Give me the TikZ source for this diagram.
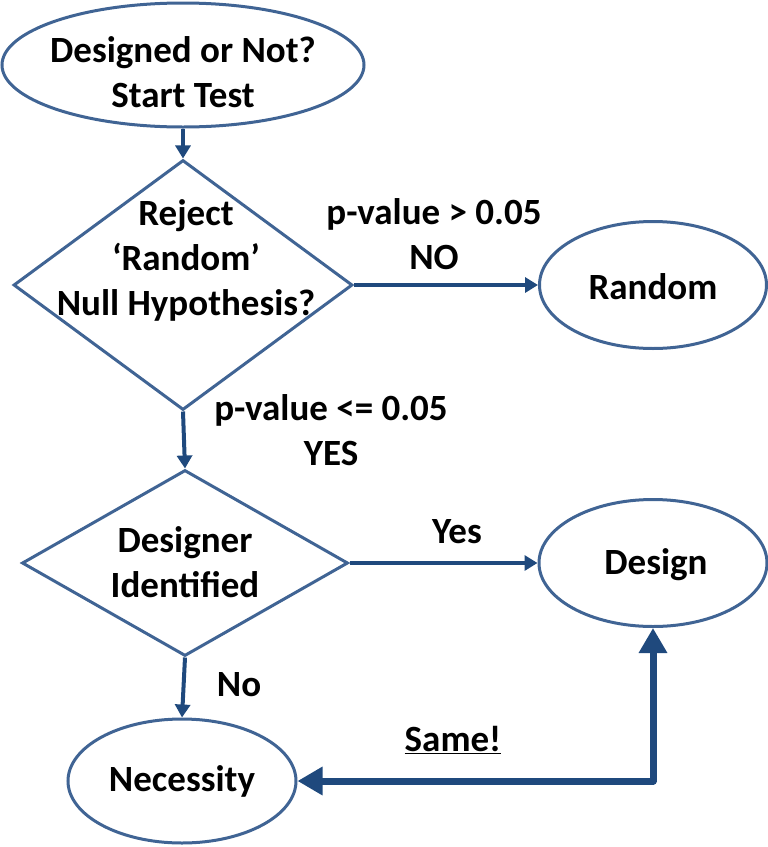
\documentclass[tikz,border=0pt]{standalone}
\usepackage{fontspec}
\setmainfont{Carlito}
\usetikzlibrary{shapes.geometric,arrows.meta}
\definecolor{shapeblue}{RGB}{64,100,148}
\definecolor{arrowblue}{RGB}{31,73,125}
\tikzset{
  term/.style={ellipse, draw=shapeblue, line width=3pt, inner sep=0pt},
  decision/.style={diamond, draw=shapeblue, line width=3pt, inner sep=0pt},
  txt/.style={align=center, font=\fontsize{37}{45}\selectfont\bfseries},
  flow/.style={draw=arrowblue, line width=4pt, -{Triangle[length=13pt,width=15pt]}},
  bigflow/.style={draw=arrowblue, line width=7pt, line join=round,
    {Triangle[length=25pt,width=27pt]}-{Triangle[length=25pt,width=27pt]}}
}
\begin{document}
\begin{tikzpicture}[x=1pt,y=-1pt]
      \useasboundingbox (0,0) rectangle (768,847);
      \draw
        (183,65) node[term, minimum width=362pt, minimum height=124pt] (start){}
        (183,285) node[decision, minimum width=339pt, minimum height=250pt] (reject){}
        (653,285) node[term, minimum width=227pt, minimum height=127pt] (random){}
        (185,563) node[decision, minimum width=326pt, minimum height=186pt] (designer){}
        (653,563) node[term, minimum width=228pt, minimum height=127pt] (design){}
        (182,781) node[term, minimum width=228pt, minimum height=124pt] (necessity){};
      \draw
        (183,72) node[txt] (starttext){Designed or Not?\\Start Test}
        (186,260) node[txt] (rejecttext){Reject\\‘Random’\\Null Hypothesis?}
        (653,287) node[txt] (randomtext){Random}
        (185,562) node[txt] (designertext){Designer\\Identified}
        (656,565) node[txt] (designtext){Design}
        (182,781) node[txt] (necessitytext){Necessity}
        (434,234) node[txt] (nolabel){p-value > 0.05\\NO}
        (331,430) node[txt] (yeslabel){p-value <= 0.05\\YES}
        (457,532) node[txt] (yes){Yes}
        (239,685) node[txt] (no){No}
        (453,740) node[txt] (same){\underline{Same!}};
      \begin{scope}[flow]
        \draw (start) to (reject);
        \draw (reject.east) to (random.west);
        \draw (reject.south) to (designer.north);
        \draw (designer.east) to (design.west);
        \draw (designer.south) to (necessity.north);
      \end{scope}
      \draw[bigflow] (design.south) |- (necessity.east);
    \end{tikzpicture}
\end{document}
